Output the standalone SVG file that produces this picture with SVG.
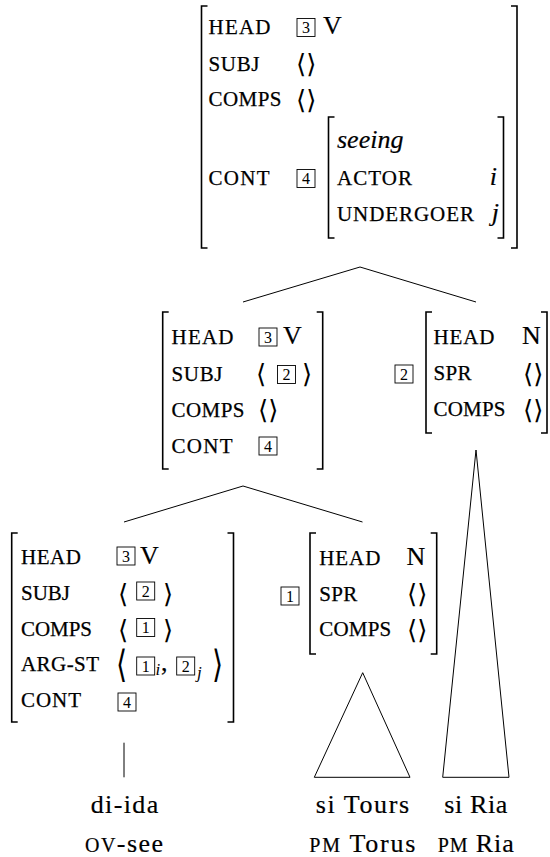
<svg xmlns="http://www.w3.org/2000/svg" width="550" height="857" viewBox="0 0 550 857">
<style>
.sc{font-family:"Liberation Serif",serif;font-size:21px;fill:#000;stroke:#000;stroke-width:0.25}
.rm{font-family:"Liberation Serif",serif;font-size:26px;fill:#000;stroke:#000;stroke-width:0.2}
.it{font-style:italic}
.num{font-family:"Liberation Serif",serif;font-size:16px;text-anchor:middle;fill:#000}
.sub{font-family:"Liberation Serif",serif;font-size:17px;font-style:italic;fill:#000}
.ang{font-family:"DejaVu Sans",sans-serif;font-size:26px;fill:#000}
.end{text-anchor:end}
.br{fill:none;stroke:#000;stroke-width:1.6}
.box{fill:none;stroke:#000;stroke-width:0.9}
.ln{fill:none;stroke:#000;stroke-width:1}
</style>
<defs>
<rect id="tag" width="18" height="18" class="box"/>
</defs>

<g id="connectors">
<path class="ln" d="M243 302 L360 267 L476 302"/>
<path class="ln" d="M124 522 L243 486 L362.5 522"/>
<path class="ln" d="M124 742.7 V777.3"/>
<path class="ln" d="M362.7 672.7 L314.3 777.3 H410 Z"/>
<path class="ln" d="M476 450 L442.7 777.3 H509 Z"/>
</g>

<g id="node-top">
<path class="br" d="M207.5 6 H201.5 V248 H207.5"/>
<path class="br" d="M511 6 H517 V248 H511"/>
<text class="sc" x="208.5" y="33.5" textLength="62">HEAD</text>
<text class="sc" x="208.5" y="70.5" textLength="51">SUBJ</text>
<text class="sc" x="208.5" y="106" textLength="73">COMPS</text>
<text class="sc" x="208.5" y="185" textLength="61">CONT</text>
<use href="#tag" x="297" y="18.5"/>
<text class="num" x="306" y="33">3</text>
<text class="rm" x="323" y="33.5">V</text>
<text class="ang" x="296" y="73">⟨⟩</text>
<text class="ang" x="296" y="108.5">⟨⟩</text>
<use href="#tag" x="297" y="169.5"/>
<text class="num" x="306" y="184">4</text>
<path class="br" d="M334.5 117 H328.5 V238 H334.5"/>
<path class="br" d="M497.5 117 H503.5 V238 H497.5"/>
<text class="rm it" x="337" y="148">seeing</text>
<text class="sc" x="337" y="185" textLength="75">ACTOR</text>
<text class="rm it end" x="497" y="185">i</text>
<text class="sc" x="337" y="221" textLength="137">UNDERGOER</text>
<text class="rm it end" x="499" y="221">j</text>
</g>

<g id="node-vp">
<path class="br" d="M168.7 312 H162.7 V469 H168.7"/>
<path class="br" d="M316.7 312 H322.7 V469 H316.7"/>
<text class="sc" x="171.5" y="343.5" textLength="62">HEAD</text>
<text class="sc" x="171.5" y="380.5" textLength="51">SUBJ</text>
<text class="sc" x="171.5" y="416.7" textLength="73">COMPS</text>
<text class="sc" x="171.5" y="452.7" textLength="61">CONT</text>
<use href="#tag" x="259" y="328"/>
<text class="num" x="268" y="342.5">3</text>
<text class="rm" x="283" y="343.5">V</text>
<text class="ang" x="256" y="383">⟨</text>
<use href="#tag" x="277.5" y="365.5"/>
<text class="num" x="286.5" y="380">2</text>
<text class="ang" x="302" y="383">⟩</text>
<text class="ang" x="258" y="419">⟨⟩</text>
<use href="#tag" x="259" y="437"/>
<text class="num" x="268" y="451.5">4</text>
</g>

<g id="node-np-ria">
<use href="#tag" x="395" y="365"/>
<text class="num" x="404" y="379.5">2</text>
<path class="br" d="M432 312 H426 V433 H432"/>
<path class="br" d="M541 312 H547 V433 H541"/>
<text class="sc" x="433.5" y="343.5" textLength="61">HEAD</text>
<text class="sc" x="433.5" y="380" textLength="38">SPR</text>
<text class="sc" x="433.5" y="416" textLength="72">COMPS</text>
<text class="rm" x="522" y="343.5">N</text>
<text class="ang" x="523" y="382.5">⟨⟩</text>
<text class="ang" x="523" y="418.5">⟨⟩</text>
</g>

<g id="node-v">
<path class="br" d="M17.7 533 H11.7 V722 H17.7"/>
<path class="br" d="M227.5 533 H233.5 V722 H227.5"/>
<text class="sc" x="21" y="564" textLength="60">HEAD</text>
<text class="sc" x="21" y="600" textLength="49">SUBJ</text>
<text class="sc" x="21" y="636" textLength="71">COMPS</text>
<text class="sc" x="21" y="671" textLength="78">ARG-ST</text>
<text class="sc" x="21" y="707" textLength="60">CONT</text>
<use href="#tag" x="117" y="547"/>
<text class="num" x="126" y="561.5">3</text>
<text class="rm" x="140" y="564">V</text>
<text class="ang" x="118" y="602.5">⟨</text>
<use href="#tag" x="136.7" y="582"/>
<text class="num" x="145.7" y="596.5">2</text>
<text class="ang" x="163" y="602.5">⟩</text>
<text class="ang" x="118" y="638.5">⟨</text>
<use href="#tag" x="136.7" y="618.5"/>
<text class="num" x="145.7" y="633">1</text>
<text class="ang" x="163" y="638.5">⟩</text>
<text class="ang" transform="translate(116 677) scale(1.1 1.45)" x="0" y="0">⟨</text>
<use href="#tag" x="136.7" y="657"/>
<text class="num" x="145.7" y="671.5">1</text>
<text class="sub" x="155.5" y="675">i</text>
<text class="rm" x="161" y="671">,</text>
<use href="#tag" x="176.7" y="657"/>
<text class="num" x="185.7" y="671.5">2</text>
<text class="sub" x="197" y="678">j</text>
<text class="ang" transform="translate(212 677) scale(1.1 1.45)" x="0" y="0">⟩</text>
<use href="#tag" x="118" y="693"/>
<text class="num" x="127" y="707.5">4</text>
</g>

<g id="node-np-tours">
<use href="#tag" x="281" y="587"/>
<text class="num" x="290" y="601.5">1</text>
<path class="br" d="M316 533 H310 V654 H316"/>
<path class="br" d="M430.7 533 H436.7 V654 H430.7"/>
<text class="sc" x="319.3" y="565" textLength="61">HEAD</text>
<text class="sc" x="319.3" y="600.7" textLength="38">SPR</text>
<text class="sc" x="319.3" y="636" textLength="72">COMPS</text>
<text class="rm" x="406.5" y="565">N</text>
<text class="ang" x="407" y="603">⟨⟩</text>
<text class="ang" x="407" y="638.5">⟨⟩</text>
</g>

<g id="leaf-di-ida">
<text class="rm" x="90.7" y="812.7" textLength="67.6">di-ida</text>
<text class="rm" x="85" y="851.7" textLength="78"><tspan font-size="20">OV</tspan>-see</text>
</g>
<g id="leaf-tours">
<text class="rm" x="315.7" y="812.7" textLength="93.3">si Tours</text>
<text class="rm" x="309.3" y="851.7" textLength="106"><tspan font-size="20">PM</tspan> Torus</text>
</g>
<g id="leaf-ria">
<text class="rm" x="444.3" y="812.7" textLength="63">si Ria</text>
<text class="rm" x="437.7" y="851.7" textLength="76"><tspan font-size="20">PM</tspan> Ria</text>
</g>
</svg>
